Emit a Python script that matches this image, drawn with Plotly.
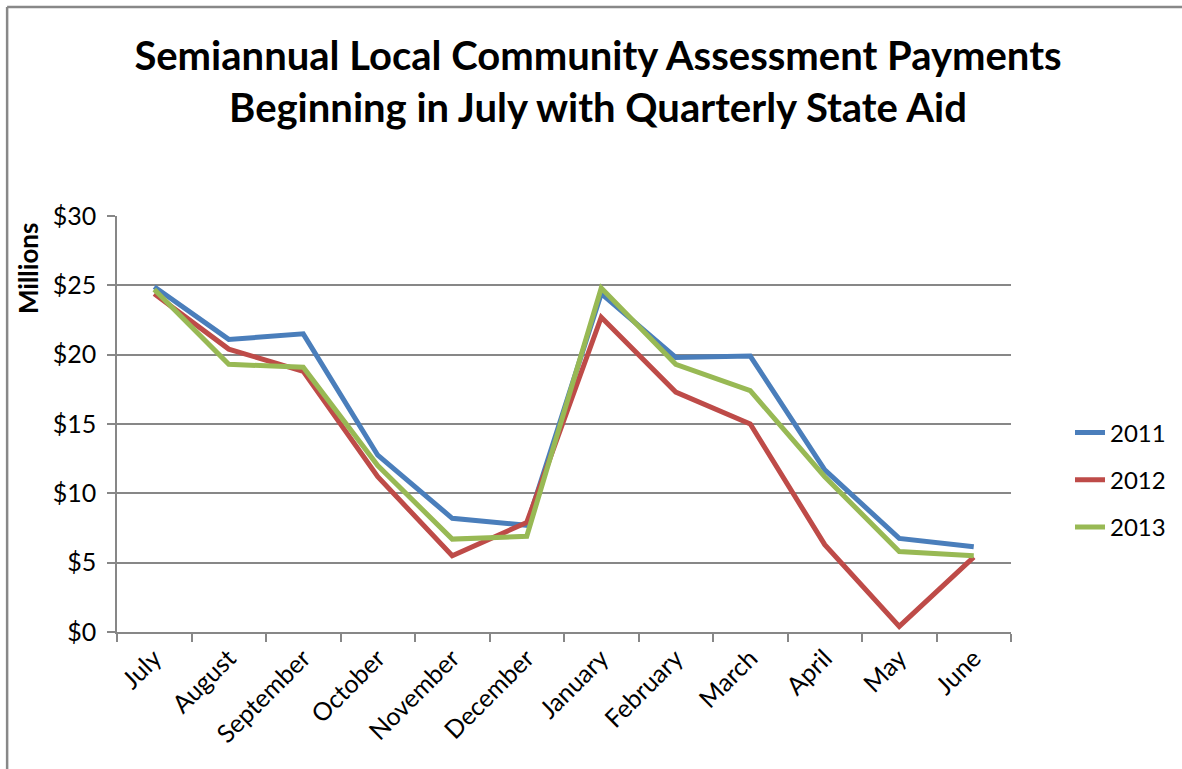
import plotly.graph_objects as go

# Monthly payments, in millions of dollars, fiscal year July-June
months = ["July", "August", "September", "October", "November", "December",
          "January", "February", "March", "April", "May", "June"]
payments_2011 = [24.9, 21.1, 21.5, 12.75, 8.2, 7.7, 24.4, 19.8, 19.9, 11.7, 6.75, 6.15]
payments_2012 = [24.4, 20.4, 18.8, 11.2, 5.5, 7.9, 22.7, 17.3, 15.0, 6.3, 0.4, 5.4]
payments_2013 = [24.7, 19.3, 19.1, 12.0, 6.7, 6.9, 24.8, 19.3, 17.4, 11.2, 5.8, 5.5]
series_names = ["2011", "2012", "2013"]
y_ticks = [0, 5, 10, 15, 20, 25, 30]
y_tick_labels = ["$0", "$5", "$10", "$15", "$20", "$25", "$30"]

colors = ["#4A7EBB", "#BE4B48", "#98B954"]
FONT = "Lato"

W, H = 1182, 769
ML, MR, MT, MB = 117, 170, 216, 137
PW, PH = W - ML - MR, H - MT - MB


def px_x(p):
    return (p - ML) / PW


def px_y(p):
    return (H - MB - p) / PH


fig = go.Figure()
for name, vals, col in zip(series_names, [payments_2011, payments_2012, payments_2013], colors):
    fig.add_trace(go.Scatter(
        x=months, y=vals, name=name, mode="lines",
        line=dict(color=col, width=5), legendgroup=name,
    ))

grid = "#878787"
fig.update_layout(
    width=W, height=H,
    margin=dict(l=ML, r=MR, t=MT, b=MB),
    paper_bgcolor="white", plot_bgcolor="white",
    font=dict(family=FONT, color="black", size=22),
    title=dict(
        text="<b>Semiannual Local Community Assessment Payments<br>Beginning in July with Quarterly State Aid</b>",
        x=598 / W, xanchor="center", xref="container",
        y=1 - 70 / H, yanchor="middle", yref="container",
        font=dict(family=FONT, size=40, color="black"),
    ),
    xaxis=dict(
        type="category", tickangle=-45, tickson="boundaries",
        ticks="outside", ticklen=8, tickcolor=grid, tickwidth=1.5,
        showline=True, linecolor=grid, linewidth=1.5,
        showgrid=False, zeroline=False,
        tickfont=dict(size=25), range=[-0.5, 11.5],
    ),
    yaxis=dict(
        range=[0, 30], tickvals=y_ticks, ticktext=y_tick_labels,
        ticks="outside", ticklen=8, tickcolor=grid, tickwidth=1.5,
        showline=True, linecolor=grid, linewidth=1.5,
        showgrid=True, gridcolor=grid, gridwidth=1.5,
        zeroline=False, ticklabelstandoff=6,
        tickfont=dict(size=25),
    ),
    legend=dict(
        x=px_x(1070), y=px_y(480), xanchor="left", yanchor="middle",
        font=dict(size=24), tracegroupgap=13, bgcolor="rgba(0,0,0,0)",
    ),
    annotations=[dict(
        text="<b>Millions</b>", textangle=-90,
        x=px_x(28), y=px_y(268), xref="paper", yref="paper",
        xanchor="center", yanchor="middle", showarrow=False,
        font=dict(family=FONT, size=26, color="black"),
    )],
    shapes=[
        dict(type="line", xref="paper", yref="paper",
             x0=px_x(7), x1=px_x(7), y0=px_y(7), y1=px_y(H + 5),
             line=dict(color="#888888", width=2.5)),
        dict(type="line", xref="paper", yref="paper",
             x0=px_x(7), x1=px_x(W + 5), y0=px_y(7), y1=px_y(7),
             line=dict(color="#888888", width=2.5)),
    ],
)

fig.write_html("out.html")
